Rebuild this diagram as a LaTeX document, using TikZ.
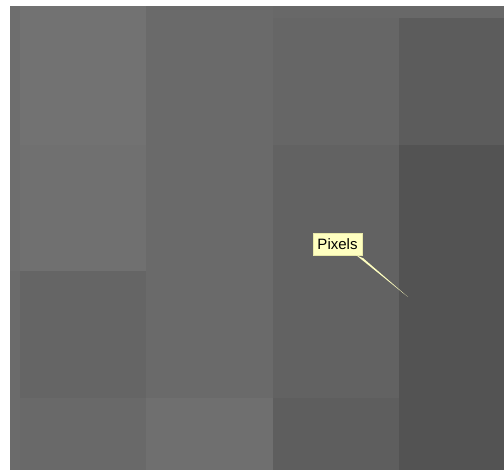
\documentclass[tikz,border=0pt]{standalone}
\usepackage{fontspec}
\setsansfont{Liberation Sans}
\definecolor{tipfill}{HTML}{FFFFC0}
\definecolor{tipedge}{HTML}{E8E8A8}
\begin{document}
\begin{tikzpicture}[x=1pt,y=-1pt,
  cell/.style={draw=none},
  tooltip/.style={fill=tipfill, draw=tipedge, line width=0.4pt, inner sep=0pt,
    minimum width=49pt, minimum height=22pt, font=\sffamily\fontsize{15}{17}\selectfont, text=black}]
\useasboundingbox (0,0) rectangle (504,470);
\fill[white] (0,0) rectangle (504,470);
% left partial column strip
\fill[cell, fill={rgb,255:red,110;green,110;blue,110}] (10,6) rectangle (20,271);
\fill[cell, fill={rgb,255:red,107;green,107;blue,107}] (10,271) rectangle (20,470);
% top partial row strip
\fill[cell, fill={rgb,255:red,106;green,106;blue,106}] (146,6) rectangle (273,18);
\fill[cell, fill={rgb,255:red,104;green,104;blue,104}] (273,6) rectangle (504,18);
% column 1
\fill[cell, fill={rgb,255:red,114;green,114;blue,114}] (20,6) rectangle (146,145);
\fill[cell, fill={rgb,255:red,112;green,112;blue,112}] (20,145) rectangle (146,271);
\fill[cell, fill={rgb,255:red,101;green,101;blue,101}] (20,271) rectangle (146,398);
\fill[cell, fill={rgb,255:red,105;green,105;blue,105}] (20,398) rectangle (146,470);
% column 2
\fill[cell, fill={rgb,255:red,106;green,106;blue,106}] (146,18) rectangle (273,398);
\fill[cell, fill={rgb,255:red,111;green,111;blue,111}] (146,398) rectangle (273,470);
% column 3
\fill[cell, fill={rgb,255:red,102;green,102;blue,102}] (273,18) rectangle (399,145);
\fill[cell, fill={rgb,255:red,98;green,98;blue,98}] (273,145) rectangle (399,398);
\fill[cell, fill={rgb,255:red,94;green,94;blue,94}] (273,398) rectangle (399,470);
% column 4
\fill[cell, fill={rgb,255:red,92;green,92;blue,92}] (399,18) rectangle (504,145);
\fill[cell, fill={rgb,255:red,83;green,83;blue,83}] (399,145) rectangle (504,470);
% tooltip
\node[tooltip] (tip) at (337.5,244) {Pixels};
\coordinate (target) at (408,297);
\fill[tipfill] ([xshift=-6pt]tip.south east) -- ([xshift=1pt,yshift=-3pt]tip.south east) -- (target) -- cycle;
\end{tikzpicture}
\end{document}
